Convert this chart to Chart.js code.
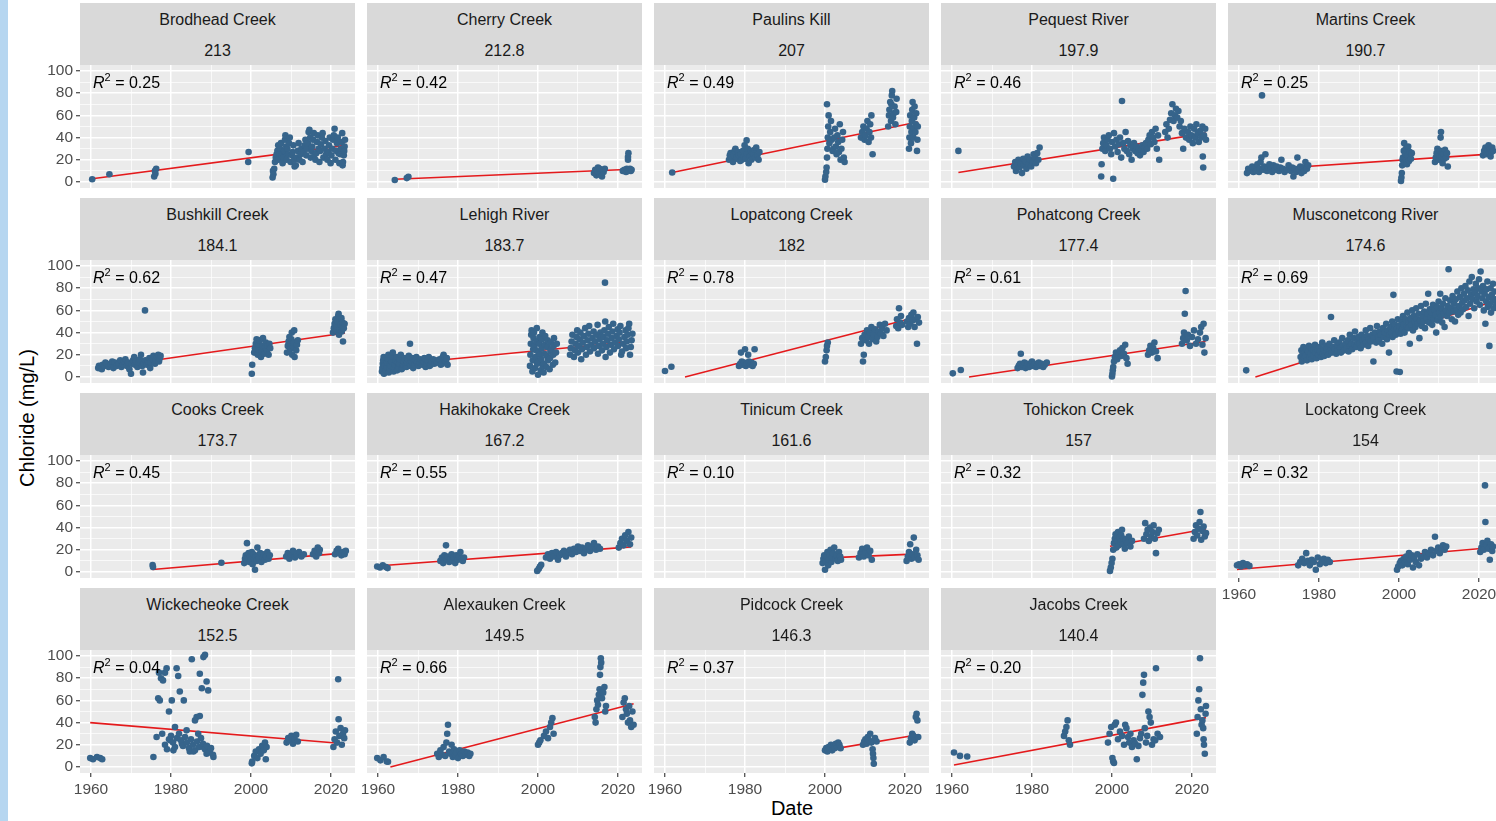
<!DOCTYPE html>
<html>
<head>
<meta charset="utf-8">
<script src="https://cdn.jsdelivr.net/npm/chart.js@4.4.1/dist/chart.umd.min.js"></script>
<style>
  body { margin: 0; width: 1496px; height: 821px; overflow: hidden; background: #fff; position: relative;
         font-family: "Liberation Sans", Arial, sans-serif; }
  .edge { position: absolute; left: 0; top: 0; width: 8px; height: 821px; background: #b6d6f0; }
  .strip { position: absolute; background: #d9d9d9; color: #1a1a1a; font-size: 16px; text-align: center; }
  .strip div { position: absolute; left: 0; right: 0; }
  .r2 { position: absolute; font-size: 16px; color: #000; white-space: nowrap; }
  .r2 sup { font-size: 11px; vertical-align: 0; position: relative; top: -7px; }
  canvas { position: absolute; }
  .ttl { position: absolute; font-size: 20px; color: #000; white-space: nowrap; }
</style>
</head>
<body>
<div class="edge"></div>
<div class="ttl" style="left:27px;top:418px;transform:translate(-50%,-50%) rotate(-90deg)">Chloride (mg/L)</div>
<div class="ttl" style="left:792px;top:808px;transform:translate(-50%,-50%)">Date</div>
<script>
// --- DATA ---
const siteNames = ['Brodhead Creek', 'Cherry Creek', 'Paulins Kill', 'Pequest River', 'Martins Creek',
  'Bushkill Creek', 'Lehigh River', 'Lopatcong Creek', 'Pohatcong Creek', 'Musconetcong River',
  'Cooks Creek', 'Hakihokake Creek', 'Tinicum Creek', 'Tohickon Creek', 'Lockatong Creek',
  'Wickecheoke Creek', 'Alexauken Creek', 'Pidcock Creek', 'Jacobs Creek'];
const siteScores = ['213', '212.8', '207', '197.9', '190.7', '184.1', '183.7', '182', '177.4', '174.6',
  '173.7', '167.2', '161.6', '157', '154', '152.5', '149.5', '146.3', '140.4'];
const r2Labels = ['0.25', '0.42', '0.49', '0.46', '0.25', '0.62', '0.47', '0.78', '0.61', '0.69',
  '0.45', '0.55', '0.10', '0.32', '0.32', '0.04', '0.66', '0.37', '0.20'];
const xTicks = [1960, 1970, 1980, 1990, 2000, 2010, 2020];
const yTicks = [0, 10, 20, 30, 40, 50, 60, 70, 80, 90, 100];

// fitted line ends: [x0, y0, x1, y1]
const fitLines = [
  [1960.3, 3, 2023.5, 33], [1964.2, 2.5, 2023.4, 11.5], [1961.8, 8.5, 2023.2, 54], [1961.6, 8.5, 2023.5, 44], [1962, 10.4, 2023.5, 25.3],
  [1961.5, 7.6, 2023.5, 39.6], [1961, 10.2, 2023.6, 32], [1965, 0, 2023.5, 54.5], [1964.25, 0, 2023.4, 32], [1964.1, 0, 2024.4, 69],
  [1975.4, 2.3, 2023.7, 17.2], [1959.8, 5.4, 2023.3, 22.6], [1999.4, 12.5, 2023.4, 16.3], [1999.5, 23.2, 2023.5, 38.7], [1959.5, 2.2, 2023.5, 22.1],
  [1959.8, 40, 2023.5, 21], [1963.1, 0, 2023.9, 57], [2000, 15, 2023.3, 29], [1960.5, 1.8, 2023.5, 44.5]
];

const brodhead = [[1960.3,2.5],[1964.6,7],[1975.8,5],[1976.1,7.5],[1976.0,10],[1976.3,12],[1999.3,18],[1999.4,27],
  [2005.4,4],[2005.6,7],[2005.5,10],[2005.8,12],[2006.0,18],[2006.2,22],[2006.4,25],[2006.6,28],[2006.8,33],[2006.9,20],
  [2007.1,26],[2007.3,30],[2007.5,35],[2007.7,24],[2007.9,17],[2008.1,22],[2008.3,28],[2008.5,38],[2008.6,42],[2008.8,32],[2008.9,20],
  [2009.1,30],[2009.3,25],[2009.5,35],[2009.7,40],[2009.9,18],[2010.2,24],[2010.4,27],[2010.6,33],[2010.8,20],[2010.9,14],
  [2011.2,15],[2011.5,22],[2011.7,28],[2011.9,35],[2012.1,20],[2012.4,25],[2012.6,30],[2012.9,18],
  [2013.1,27],[2013.4,33],[2013.6,38],[2013.8,24],[2014.0,30],[2014.2,35],[2014.4,45],[2014.6,47],[2014.8,40],[2014.9,22],
  [2015.1,28],[2015.3,32],[2015.5,38],[2015.7,44],[2015.9,25],[2016.1,20],[2016.3,26],[2016.5,36],[2016.7,42],[2016.9,30],
  [2017.1,18],[2017.3,28],[2017.5,34],[2017.7,40],[2017.9,44],[2018.1,22],[2018.4,30],[2018.6,37],[2018.8,25],
  [2019.1,20],[2019.3,27],[2019.5,33],[2019.7,40],[2019.9,17],[2020.1,24],[2020.3,30],[2020.5,38],[2020.7,42],[2020.9,48],
  [2021.1,20],[2021.3,28],[2021.5,35],[2021.7,40],[2021.9,26],[2022.1,17],[2022.3,25],[2022.5,30],[2022.7,36],[2022.8,44],[2022.9,15],
  [2023.0,18],[2023.2,24],[2023.4,32],[2023.5,38],[2023.3,28]];

const cherry = [[1964.2,1.8],[1967.2,3.5],[1967.6,4.8],
  [2014.0,8],[2014.3,11],[2014.6,6],[2015.0,13],[2015.2,9],[2015.5,7],[2015.8,11],[2016.0,5],[2016.4,9],[2016.7,12],[2014.8,10],[2015.4,12],
  [2021.2,10],[2021.6,11],[2022.0,9],[2022.2,12],[2022.5,10],[2022.7,11],[2023.0,12],[2023.2,10],[2023.4,11],[2022.5,20],[2022.5,22.5],[2022.6,26]];

const paulins = [[1961.8,8.5],[1976.0,20],[1976.2,24],[1976.4,26],[1976.6,22],[1977.0,18],[1977.2,25],[1977.4,28],[1977.6,30],[1977.8,21],
  [1978.0,22],[1978.3,27],[1978.5,24],[1978.8,19],[1979.0,25],[1979.2,20],[1979.5,28],[1979.7,23],[1979.9,33],
  [1980.1,21],[1980.4,37.5],[1980.5,26],[1980.7,30],[1980.9,17],[1981.2,23],[1981.4,28],[1981.6,20],[1981.8,26],
  [1982.1,25],[1982.4,29],[1982.6,22],[1982.8,31],[1983.1,24],[1983.4,20],[1983.6,27],
  [2000.0,2],[2000.1,5],[2000.3,9],[2000.4,13],[2000.5,22],[2000.6,30],[2000.7,40],[2000.8,50],[2000.9,60],[2000.5,70],
  [2001.1,35],[2001.3,45],[2001.5,55],[2001.7,38],[2001.9,28],[2002.1,30],[2002.3,40],[2002.5,48],[2002.7,32],[2002.9,25],
  [2003.1,42],[2003.3,36],[2003.5,27],[2003.7,52],[2003.9,20],[2004.1,30],[2004.3,38],[2004.5,45],[2004.7,22],[2004.9,18],
  [2009.0,40],[2009.3,45],[2009.6,50],[2009.9,38],[2010.1,42],[2010.4,48],[2010.6,55],[2010.9,36],
  [2011.1,45],[2011.3,52],[2011.5,40],[2011.6,60],[2011.9,25],
  [2015.8,50],[2016.0,60],[2016.1,65],[2016.3,72],[2016.5,55],[2016.6,70],[2016.7,78],[2016.8,82],
  [2017.0,58],[2017.2,62],[2017.4,68],[2017.6,52],[2017.8,63],[2017.9,75],
  [2021.0,30],[2021.1,40],[2021.2,50],[2021.3,60],[2021.5,35],[2021.6,45],[2021.7,55],[2021.8,65],[2021.9,72],
  [2022.1,40],[2022.2,48],[2022.3,58],[2022.4,68],[2022.6,45],[2022.7,52],[2022.8,62],[2023.0,28],[2023.1,38],[2023.2,50]];

const pequest = [[1961.6,28],
  [1975.5,14],[1975.8,18],[1976.0,10],[1976.3,16],[1976.6,20],[1976.9,13],[1977.2,17],[1977.5,8],[1977.8,21],[1978.0,15],
  [1978.3,19],[1978.6,12],[1978.9,23],[1979.2,16],[1979.5,20],[1979.8,14],[1980.1,18],[1980.4,25],[1980.7,22],[1981.0,17],
  [1981.3,26],[1981.6,20],[1981.9,31],
  [1997.3,5],[1997.4,16],[1997.6,30],[1997.8,35],[1998.0,40],[1998.3,28],[1998.6,33],[1998.9,38],[1999.2,42],[1999.5,30],
  [1999.8,25],[2000.0,36],[2000.3,3],[2000.5,44],[2000.8,32],[2001.1,38],[2001.4,27],[2001.7,34],[2002.0,40],[2002.3,22],
  [2002.5,73],[2002.8,35],[2003.1,30],[2003.4,45],[2003.7,28],[2004.0,37],[2004.3,25],[2004.6,33],[2004.9,20],[2005.2,30],
  [2005.5,35],[2005.8,28],[2006.1,32],[2006.4,26],[2006.7,30],[2007.0,24],[2007.3,29],[2007.6,33],[2007.9,27],[2008.2,31],
  [2008.5,35],[2008.8,30],[2009.1,38],[2009.4,42],[2009.7,34],[2010.0,45],[2010.3,40],[2010.6,36],[2010.9,48],[2011.2,30],
  [2011.5,42],[2011.8,20],
  [2013.3,45],[2013.6,52],[2013.9,40],[2014.2,48],[2014.5,56],[2014.8,62],[2015.1,70],[2015.4,55],[2015.7,60],[2016.0,66],
  [2016.3,58],[2016.6,64],[2016.9,50],[2017.2,55],[2017.5,44],[2017.8,30],[2018.1,48],[2018.5,40],
  [2019.0,45],[2019.3,38],[2019.6,50],[2019.9,42],[2020.2,35],[2020.5,48],[2020.8,40],[2021.1,52],[2021.4,44],[2021.7,36],
  [2022.0,46],[2022.3,40],[2022.6,50],[2022.7,23],[2022.8,13],[2023.0,42],[2023.3,48],[2023.5,38]];

const martins = [[1962.0,8],[1962.3,12],[1962.6,10],[1963.0,11],[1963.3,14],[1963.6,9],[1964.0,13],[1964.3,10],[1964.6,16],
  [1965.0,9],[1965.2,12],[1965.4,18],[1965.6,22],[1965.75,78],[1966.0,11],[1966.3,14],[1966.6,25],[1967.0,10],[1967.3,13],[1967.6,16],
  [1968.0,12],[1968.3,9],[1968.6,15],[1969.0,11],[1969.4,14],[1970.0,10],[1970.3,13],[1970.6,20],[1971.0,12],[1971.4,9],
  [1972.0,11],[1972.4,15],[1973.0,10],[1973.3,13],[1973.6,5],[1974.0,12],[1974.3,9],[1974.6,22],[1975.0,11],[1975.3,14],[1975.6,8],
  [1976.0,13],[1976.3,10],[1976.6,18],[1977.0,12],[1977.3,15],
  [2000.5,1],[2000.6,4],[2000.7,8],[2000.8,15],[2000.9,20],[2001.0,22],[2001.2,28],[2001.3,35],[2001.4,18],[2001.6,25],[2001.7,30],[2001.8,20],
  [2002.0,16],[2002.2,24],[2002.3,32],[2002.5,19],[2002.7,27],[2003.0,21],[2003.2,26],
  [2009.0,18],[2009.2,22],[2009.4,26],[2009.6,30],[2010.0,20],[2010.2,24],[2010.3,28],[2010.4,40],[2010.5,45],
  [2010.7,23],[2010.8,27],[2010.9,17],[2011.1,25],[2011.3,21],[2011.5,29],[2011.8,22],[2012.0,26],[2012.2,14],
  [2021.0,24],[2021.3,28],[2021.6,31],[2022.0,25],[2022.2,29],[2022.4,33],[2022.5,27],[2022.6,26],[2022.8,30],[2022.9,23],
  [2023.1,27],[2023.3,31],[2023.5,28]];

const bushkill = [[1961.8,8],[1962.0,10],[1962.5,9],[1962.7,7],[1962.9,11],[1963.3,10],[1963.6,13],[1964.0,12],[1964.4,9],
  [1965.0,11],[1965.3,14],[1965.6,8],[1966.0,13],[1966.4,10],[1967.0,12],[1967.3,15],[1967.6,9],[1968.0,11],[1968.3,14],[1968.6,16],
  [1969.0,10],[1969.3,13],[1969.6,7],[1970.0,3],[1970.2,12],[1970.5,15],[1970.8,18],[1971.0,11],[1971.3,14],[1971.6,9],
  [1972.0,13],[1972.2,16],[1972.5,20],[1972.8,10],[1973.0,4],[1973.2,12],[1973.5,60],[1973.6,15],[1974.0,11],[1974.3,14],
  [1974.6,17],[1974.8,8],[1975.0,13],[1975.3,16],[1975.6,19],[1976.0,12],[1976.2,15],[1976.5,18],[1976.8,20],[1977.0,14],
  [1977.2,17],[1977.4,19],
  [2000.2,3],[2000.3,11],[2000.8,22],[2001.0,26],[2001.2,30],[2001.4,34],[2001.7,20],[2001.9,25],[2002.0,29],[2002.2,33],
  [2002.5,18],[2002.7,23],[2002.9,28],[2003.0,35],[2003.3,21],[2003.5,27],[2003.7,31],[2004.0,24],[2004.2,28],[2004.4,20],
  [2004.6,30],[2004.8,26],
  [2009.0,22],[2009.2,28],[2009.4,32],[2009.6,36],[2009.8,25],[2010.0,30],[2010.1,34],[2010.2,40],[2010.3,20],
  [2010.5,27],[2010.7,31],[2010.8,42],[2010.9,18],[2011.3,24],[2011.5,29],[2011.7,33],
  [2020.5,40],[2020.7,44],[2020.9,48],[2021.1,52],[2021.3,42],[2021.4,46],[2021.6,50],[2021.8,55],[2021.9,57],
  [2022.0,38],[2022.2,43],[2022.4,47],[2022.6,53],[2022.7,41],[2022.8,45],[2022.9,49],[2023.0,32],[2023.2,44],[2023.4,48]];

const lehigh = [[1961.0,5],[1961.1,8],[1961.2,12],[1961.3,15],[1961.4,18],[1961.5,3],[1961.6,10],
  [1962.0,6],[1962.1,9],[1962.3,13],[1962.4,17],[1962.6,20],[1962.7,4],[1962.9,11],
  [1963.0,7],[1963.2,10],[1963.4,14],[1963.5,19],[1963.7,22],[1963.9,5],
  [1964.0,8],[1964.2,11],[1964.4,15],[1964.6,18],[1964.8,6],[1964.9,13],
  [1965.1,9],[1965.3,12],[1965.5,16],[1965.7,20],[1965.9,7],[1966.1,8],[1966.3,11],[1966.5,14],[1966.7,17],[1966.9,10],
  [1967.1,9],[1967.3,13],[1967.5,16],[1967.7,19],[1967.9,12],[1968.0,30],[1968.2,10],[1968.4,14],[1968.6,17],[1968.8,8],
  [1969.1,11],[1969.3,15],[1969.6,18],[1969.8,13],[1970.1,10],[1970.4,13],[1970.6,16],[1970.9,12],
  [1971.1,11],[1971.4,14],[1971.6,17],[1971.9,9],[1972.1,12],[1972.4,15],[1972.7,18],[1972.9,10],
  [1973.2,11],[1973.5,14],[1973.8,16],[1974.1,12],[1974.4,15],[1974.8,13],[1975.1,13],[1975.4,16],[1975.7,11],
  [1976.0,12],[1976.2,18],[1976.4,20],[1976.6,15],[1977.0,14],[1977.2,17],[1977.4,11],
  [1998.0,10],[1998.1,20],[1998.2,30],[1998.3,38],[1998.4,42],[1998.6,5],[1998.7,15],[1998.8,25],[1998.9,35],[1999.0,40],[1999.1,28],
  [1999.3,8],[1999.4,18],[1999.5,24],[1999.6,32],[1999.7,44],[1999.8,12],[2000.0,2],[2000.1,14],[2000.2,22],[2000.3,30],[2000.4,36],[2000.5,20],
  [2000.7,6],[2000.8,16],[2000.9,26],[2001.0,34],[2001.1,40],[2001.2,10],[2001.4,4],[2001.5,12],[2001.6,21],[2001.7,29],[2001.8,37],
  [2002.1,9],[2002.2,19],[2002.3,27],[2002.4,33],[2002.5,15],[2002.9,7],[2003.0,17],[2003.1,23],[2003.2,31],[2003.3,25],
  [2003.7,11],[2003.8,20],[2003.9,28],[2004.0,35],[2004.3,13],[2004.5,22],[2004.7,30],
  [2008.0,20],[2008.2,26],[2008.4,32],[2008.6,38],[2009.0,18],[2009.2,24],[2009.4,30],[2009.6,36],[2009.8,42],
  [2010.0,22],[2010.2,28],[2010.4,34],[2010.6,40],[2010.8,16],[2011.0,25],[2011.2,31],[2011.5,37],[2011.8,44],
  [2012.0,20],[2012.2,27],[2012.4,33],[2012.6,39],[2012.8,46],[2013.0,23],[2013.3,29],[2013.6,35],[2013.9,41],
  [2014.0,26],[2014.3,32],[2014.6,38],[2014.9,47],[2015.0,21],[2015.2,28],[2015.4,34],[2015.6,40],[2015.8,36],
  [2016.0,24],[2016.2,30],[2016.4,36],[2016.6,42],[2016.8,50],[2016.75,85],[2016.9,18],
  [2017.1,27],[2017.3,33],[2017.5,39],[2017.7,45],[2018.0,22],[2018.2,29],[2018.4,35],[2018.6,41],[2018.8,48],
  [2019.0,25],[2019.3,31],[2019.6,37],[2019.9,43],[2020.0,28],[2020.2,34],[2020.4,40],[2020.6,46],[2020.8,20],
  [2021.0,23],[2021.3,30],[2021.6,36],[2021.9,42],[2022.0,26],[2022.2,32],[2022.4,38],[2022.6,44],[2022.8,48],
  [2023.0,20],[2023.2,27],[2023.4,33],[2023.6,39]];

const lopatcong = [[1960.0,5.4],[1961.6,9.3],
  [1978.5,10],[1978.8,12],[1979.0,22],[1979.2,14],[1979.5,11],[1979.8,13],[1980.0,25],[1980.2,10],[1980.5,12],
  [1980.8,20],[1981.0,14],[1981.3,11],[1981.6,13],[1981.9,10],[1982.2,12],[1982.4,25],
  [2000.0,14],[2000.2,18],[2000.4,24],[2000.5,28],[2000.7,31],
  [2009.0,30],[2009.3,35],[2009.5,14],[2009.7,20],[2009.9,38],[2010.2,33],[2010.5,42],[2010.8,36],
  [2011.0,30],[2011.3,40],[2011.6,45],[2011.9,34],[2012.2,38],[2012.5,43],[2012.8,32],
  [2013.1,36],[2013.4,41],[2013.7,47],[2014.0,39],[2014.3,44],[2014.6,37],[2015.0,48],[2015.4,42],
  [2017.8,46],[2018.0,52],[2018.3,44],[2018.5,62],[2018.8,49],[2019.0,55],[2019.3,47],
  [2020.5,50],[2020.8,45],[2021.0,53],[2021.3,48],[2021.6,56],[2021.9,51],[2022.1,58],[2022.4,45],
  [2022.7,52],[2023.0,30],[2023.2,54],[2023.5,49]];

const pohatcong = [[1960.2,3.3],[1962.2,6.3],
  [1976.4,8],[1976.7,10],[1977.0,12],[1977.2,21],[1977.5,9],[1977.8,11],[1978.1,13],[1978.4,8],
  [1978.7,10],[1979.0,12],[1979.3,9],[1979.6,11],[1980.0,14],[1980.3,10],[1980.6,12],[1981.0,9],
  [1981.3,11],[1981.7,13],[1982.0,10],[1982.4,12],[1982.8,9],[1983.2,11],[1983.7,13],
  [2000.0,0.5],[2000.1,3],[2000.2,6],[2000.3,9],[2000.5,14],[2000.7,18],[2001.0,22],[2001.3,16],
  [2001.6,20],[2002.0,24],[2002.3,19],[2002.6,26],[2003.0,21],[2003.3,29],[2003.6,17],[2003.9,12],
  [2009.0,20],[2009.3,24],[2009.6,28],[2010.0,22],[2010.3,26],[2010.6,31],[2011.0,23],[2011.4,17],
  [2017.5,30],[2017.8,35],[2018.0,40],[2018.2,57],[2018.4,77.5],[2018.7,33],[2019.0,38],
  [2019.5,28],[2020.0,36],[2020.5,42],[2021.0,30],[2021.5,34],[2022.0,40],[2022.3,45],
  [2022.6,29],[2022.9,48],[2023.1,22],[2023.4,35]];

const musconetcong = [[1961.8,6],
  [1975.4,18],[1975.6,24],[1975.7,14],[1975.9,21],[1976.1,27],[1976.3,17],[1976.4,22],[1976.7,19],[1976.9,25],[1977.0,15],
  [1977.3,23],[1977.5,28],[1977.6,18],[1977.9,21],[1978.1,26],[1978.2,16],[1978.6,24],[1978.7,19],[1979.0,29],[1979.1,22],
  [1979.4,17],[1979.7,25],[1979.8,20],[1980.0,27],[1980.3,23],[1980.5,18],[1980.8,31],[1980.9,21],
  [1981.1,25],[1981.3,19],[1981.6,28],[1981.9,23],[1982.0,26],[1982.3,20],[1982.6,30],[1982.8,24],[1983.0,54],[1983.2,22],
  [1983.5,27],[1983.8,33],[1984.0,25],[1984.3,21],[1984.6,29],[1984.7,24],[1985.0,31],[1985.3,26],[1985.5,22],[1985.8,35],
  [1986.0,28],[1986.3,24],[1986.6,30],[1986.9,26],[1987.2,33],[1987.4,23],[1987.7,38],[1987.8,28],
  [1988.1,30],[1988.3,25],[1988.6,35],[1988.9,29],[1989.0,41],[1989.3,27],[1989.6,32],[1989.8,36],[1990.1,30],[1990.4,26],
  [1990.6,38],[1990.9,33],[1991.1,29],[1991.4,35],[1991.7,42],[1991.8,31],[1992.0,37],[1992.3,28],[1992.5,34],[1992.8,44],
  [1993.0,32],[1993.3,38],[1993.6,14],[1993.7,35],[1994.0,40],[1994.3,31],[1994.5,46],[1994.8,36],
  [1995.0,33],[1995.2,41],[1995.5,38],[1995.8,30],[1996.0,44],[1996.2,36],[1996.5,40],[1996.8,48],[1997.0,34],[1997.2,42],
  [1997.5,22],[1997.6,38],[1997.9,45],[1998.1,40],[1998.3,50],[1998.4,36],[1998.6,74],[1998.8,43],[1999.0,47],[1999.2,38],
  [1999.4,5],[1999.5,44],[1999.7,52],[1999.9,41],[2000.1,46],[2000.2,4.5],[2000.4,39],[2000.6,50],[2000.8,43],[2001.0,55],
  [2001.2,47],[2001.4,40],[2001.7,52],[2001.9,45],
  [2002.1,58],[2002.3,44],[2002.5,50],[2002.7,30],[2002.9,53],[2003.1,47],[2003.3,60],[2003.5,42],[2003.7,55],[2003.9,50],
  [2004.1,45],[2004.3,62],[2004.5,52],[2004.7,48],[2004.9,57],[2005.1,35],[2005.3,51],[2005.5,64],[2005.7,46],[2005.9,55],
  [2006.1,50],[2006.3,59],[2006.5,44],[2006.7,66],[2006.9,53],[2007.1,57],[2007.3,75],[2007.5,49],[2007.7,61],[2007.9,54],
  [2008.1,58],[2008.3,47],[2008.5,65],[2008.7,52],[2008.9,60],
  [2009.1,56],[2009.3,40],[2009.5,63],[2009.7,51],[2009.9,68],[2010.1,58],[2010.3,75],[2010.4,54],[2010.6,62],[2010.8,49],
  [2011.0,66],[2011.2,57],[2011.4,45],[2011.6,71],[2011.8,60],[2012.0,55],[2012.2,64],[2012.4,97],[2012.6,58],[2012.8,69],
  [2013.0,62],[2013.2,52],[2013.4,73],[2013.6,59],[2013.8,66],[2014.0,50],[2014.2,70],[2014.4,61],[2014.6,77],[2014.8,56],
  [2015.0,64],[2015.2,72],[2015.4,58],[2015.6,80],[2015.8,67],[2016.0,61],[2016.2,75],[2016.4,69],[2016.6,82],[2016.8,63],
  [2017.0,71],[2017.2,78],[2017.4,55],[2017.6,86],[2017.8,66],[2018.0,74],[2018.2,90],[2018.4,70],[2018.6,79],[2018.8,62],
  [2019.0,76],[2019.2,84],[2019.4,68],[2019.6,73],[2019.8,80],[2020.0,88],[2020.2,65],[2020.4,95],[2020.6,77],[2020.8,71],
  [2021.0,82],[2021.2,60],[2021.4,75],[2021.6,48],[2021.8,68],[2021.9,79],[2022.1,86],[2022.2,63],[2022.4,72],[2022.6,28],
  [2022.7,66],[2022.9,80],[2023.0,58],[2023.2,74],[2023.4,69],[2023.5,84],[2023.7,62],[2023.9,77],[2024.1,70],[2024.3,65]];

const cooks = [[1975.4,6.3],[1975.5,4.5],[1992.6,8.4],
  [1998.3,8],[1998.5,12],[1998.7,15],[1998.9,10],[1999.0,26],[1999.2,13],[1999.4,17],[1999.6,9],
  [1999.8,14],[2000.0,11],[2000.2,18],[2000.4,7],[2000.6,16],[2000.8,12],[2001.0,2],[2001.2,14],
  [2001.4,10],[2001.6,22],[2001.8,15],[2002.0,12],[2002.3,17],[2002.6,9],[2002.9,13],[2003.2,16],
  [2003.5,11],[2003.8,14],[2004.1,18],[2004.4,12],[2004.7,15],
  [2008.8,14],[2009.2,17],[2009.6,12],[2010.0,16],[2010.5,19],[2011.0,13],[2011.5,15],[2012.0,18],[2012.6,14],[2013.2,16],
  [2015.5,16],[2015.9,19],[2016.3,14],[2016.7,22],[2017.0,17],[2017.2,20],
  [2021.0,16],[2021.4,19],[2021.8,21],[2022.2,17],[2022.6,15],[2023.0,18],[2023.4,16],[2023.7,19]];

const hakihokake = [[1959.8,5],[1960.5,4],[1961.2,6],[1962.0,4.5],[1962.4,3.5],
  [1975.6,10],[1976.0,13],[1976.3,8],[1976.6,15],[1977.0,24],[1977.2,11],[1977.5,14],[1977.8,9],
  [1978.1,12],[1978.4,16],[1978.7,10],[1979.0,13],[1979.3,8],[1979.6,15],[1980.0,11],[1980.3,14],
  [1980.6,18],[1980.9,12],[1981.2,10],[1981.5,13],
  [1999.8,1],[2000.2,3],[2000.5,5],[2000.8,6.5],
  [2002.0,13],[2002.5,16],[2003.0,12],[2003.5,17],[2004.0,14],[2004.5,18],[2005.0,11],[2005.5,15],
  [2006.0,17],[2006.5,19],[2007.0,14],[2007.5,18],[2008.0,20],[2008.5,16],[2009.0,21],[2009.5,18],
  [2010.0,23],[2010.5,19],[2011.0,22],[2011.5,17],[2012.0,21],[2012.5,24],[2013.0,19],[2013.5,22],
  [2014.0,26],[2014.5,20],[2015.0,23],[2015.5,21],
  [2020.2,22],[2020.6,26],[2021.0,30],[2021.4,24],[2021.8,33],[2022.2,28],[2022.6,36],[2023.0,25],[2023.3,31]];

const tinicum = [[1999.4,8],[1999.6,12],[1999.8,15],[2000.0,2],[2000.2,10],[2000.4,14],[2000.6,18],[2000.8,6],
  [2001.0,11],[2001.2,16],[2001.4,20],[2001.6,9],[2001.8,13],[2002.0,17],[2002.3,22],[2002.6,12],
  [2002.9,15],[2003.2,10],[2003.5,18],[2003.8,14],[2004.0,11],
  [2008.5,13],[2008.9,17],[2009.3,21],[2009.7,14],[2010.1,18],[2010.5,22],[2010.9,15],[2011.3,19],[2011.7,11],
  [2020.4,10],[2020.7,14],[2021.0,18],[2021.3,25],[2021.6,12],[2021.9,16],[2022.2,31],[2022.5,13],
  [2022.8,20],[2023.1,15],[2023.4,11]];

const tohickon = [[1999.5,1],[1999.7,4],[1999.9,8],[2000.1,12],[2000.3,20],[2000.5,26],[2000.7,30],[2000.9,34],
  [2001.1,22],[2001.3,28],[2001.5,36],[2001.7,24],[2001.9,31],[2002.1,27],[2002.3,33],[2002.5,38],
  [2002.7,25],[2002.9,30],[2003.2,21],[2003.5,29],[2003.8,26],[2004.2,32],[2004.6,23],[2005.0,28],
  [2008.0,30],[2008.3,44],[2008.6,34],[2008.9,38],[2009.2,28],[2009.5,40],[2009.8,32],[2010.1,36],
  [2010.4,42],[2010.7,30],[2011.0,17],[2011.3,35],[2011.7,38],
  [2020.4,30],[2020.7,36],[2021.0,42],[2021.3,33],[2021.6,39],[2021.9,45],[2022.1,54],[2022.3,29],
  [2022.6,37],[2022.9,41],[2023.2,32],[2023.5,35]];

const lockatong = [[1959.5,6],[1960.0,7],[1960.5,5],[1961.0,8],[1961.5,6],[1962.0,7],[1962.6,5.5],
  [1974.8,6],[1975.3,9],[1975.8,12],[1976.3,8],[1976.8,17],[1977.2,10],[1977.7,6],[1978.2,11],
  [1978.7,9],[1979.2,2],[1979.7,13],[1980.2,7],[1980.7,10],[1981.2,12],[1981.7,8],[1982.2,11],[1982.7,9],
  [1999.5,2],[1999.8,5],[2000.2,8],[2000.5,10],[2000.8,6],[2001.2,12],[2001.5,9],[2001.8,14],
  [2002.2,7],[2002.5,17],[2002.8,11],[2003.2,15],[2003.5,4],[2003.8,13],[2004.2,9],[2004.6,16],
  [2005.0,6],[2005.5,12],[2006.0,14],[2006.5,18],[2007.0,13],[2007.5,17],[2008.0,20],[2008.5,15],
  [2009.0,31.8],[2009.4,19],[2009.8,22],[2010.2,17],[2010.6,21],[2011.0,24],[2011.4,20],[2011.8,23],
  [2020.3,18],[2020.6,22],[2020.9,26],[2021.2,20],[2021.5,78],[2021.6,45],[2021.8,24],[2022.1,28],
  [2022.4,21],[2022.7,11],[2023.0,25],[2023.3,19],[2023.5,23]];

const wickecheoke = [[1959.8,8],[1960.5,7],[1961.5,9],[1962.3,8],[1962.8,7],
  [1975.6,9],[1976.4,27],[1976.8,62],[1977.2,60],[1977.0,85],[1977.5,80],[1978.0,78],[1978.5,85],[1978.9,89],
  [1979.5,50],[1979.8,24],[1980.2,60],[1980.6,15],[1981.0,36],[1981.4,89],[1981.8,82],[1982.2,68],
  [1982.7,21],[1983.2,60],[1983.9,33],[1984.7,14],[1985.2,97],[1985.6,14],[1986.0,42],[1986.4,45],
  [1986.8,30],[1987.2,84],[1987.7,71],[1988.1,99],[1988.5,101],[1988.9,77],[1989.3,69],[1987.2,46],
  [1988.1,18],[1988.9,12],[1989.7,14],[1990.6,9],
  [1977.8,30],[1978.5,20],[1979.0,16],[1979.5,25],[1980.0,28],[1980.5,22],[1981.0,18],[1981.5,26],
  [1982.0,30],[1982.5,24],[1983.0,19],[1983.5,27],[1984.0,22],[1984.5,17],[1985.0,25],[1985.5,20],
  [1986.0,15],[1986.5,23],[1987.0,18],[1987.5,26],[1988.0,21],[1988.5,16],[1989.0,19],[1989.5,13],[1990.0,17],[1990.5,11],
  [2000.2,3.3],[2000.3,5],[2000.8,10],[2001.2,14],[2001.6,8],[2002.0,16],[2002.4,12],[2002.8,19],
  [2003.2,15],[2003.5,22],[2003.9,18],[2003.7,7],
  [2008.9,22],[2009.3,26],[2009.7,24],[2010.1,28],[2010.5,21],[2010.9,25],[2011.3,29],[2011.7,23],
  [2020.6,18],[2020.9,25],[2021.2,32],[2021.5,22],[2021.8,79],[2021.9,43],[2022.1,28],[2022.4,35],
  [2022.7,20],[2023.0,30],[2023.3,26],[2023.5,33]];

const alexauken = [[1959.8,8],[1960.6,6],[1961.4,9],[1962.2,5],[1962.5,4.8],
  [1974.8,12],[1975.2,9],[1975.6,15],[1976.0,11],[1976.4,18],[1976.8,10],[1977.1,22],[1977.3,30],[1977.5,38],
  [1977.8,14],[1978.1,12],[1978.4,20],[1978.7,9],[1979.0,16],[1979.3,11],[1979.6,13],[1980.0,8],
  [1980.4,15],[1980.8,12],[1981.2,10],[1981.6,14],[1982.0,11],[1982.4,13],[1982.8,10],[1983.1,12],
  [2000.0,20],[2000.3,22],[2000.6,24],[2001.5,28],[2002.0,32],[2002.5,26],[2003.0,36],[2003.3,40],[2003.6,44],[2003.9,30],
  [2014.2,45],[2014.4,40],[2014.6,52],[2014.8,60],[2015.0,56],[2015.2,65],[2015.4,70],[2015.5,83],
  [2015.6,90],[2015.7,98],[2015.8,94],[2016.0,62],[2016.3,67],[2016.6,72],[2016.8,50],[2017.0,55],
  [2021.1,45],[2021.4,58],[2021.7,62],[2022.0,52],[2022.2,48],[2022.5,40],[2022.8,55],[2023.0,42],
  [2023.3,36],[2023.6,50],[2023.9,38]];

const pidcock = [[2000.0,15],[2000.3,17],[2000.6,14],[2000.9,18],[2001.2,16],[2001.5,20],[2001.8,15],[2002.1,19],
  [2002.4,17],[2002.7,21],[2003.0,18],[2003.3,22],[2003.6,20],[2003.9,17],
  [2009.5,20],[2009.8,23],[2010.1,25],[2010.4,21],[2010.7,27],[2011.0,24],[2011.3,30],[2011.6,22],
  [2011.9,16],[2012.0,12],[2012.1,8],[2012.2,3],[2012.5,26],[2012.9,23],
  [2021.2,22],[2021.5,26],[2021.8,30],[2022.1,28],[2022.4,24],[2022.7,45],[2022.9,48],[2023.1,42],[2023.3,27]];

const jacobs = [[1960.5,13],[1962.0,10],[1963.8,9.5],
  [1988.0,28],[1988.3,32],[1988.6,36],[1988.9,42],[1989.2,24],[1989.5,20],
  [1999.0,22],[1999.4,30],[1999.8,36],[2000.1,8],[2000.3,5],[2000.5,3.6],[2000.7,38],[2001.0,40],
  [2001.5,25],[2002.0,32],[2002.5,28],[2003.0,20],[2003.3,38],[2003.6,35],[2004.0,27],[2004.3,22],
  [2004.6,30],[2005.0,18],[2005.4,24],[2005.8,21],[2006.2,7],[2006.6,19],[2007.0,26],[2007.3,30],
  [2007.6,65],[2007.8,76],[2008.0,83],[2008.2,35],[2008.5,22],[2008.8,28],[2009.1,50],[2009.4,45],
  [2009.7,40],[2010.0,20],[2010.4,25],[2010.8,24],[2011.0,89],[2011.4,30],[2012.0,27],
  [2021.2,30],[2021.4,45],[2021.6,60],[2021.8,70],[2022.0,98],[2022.2,52],[2022.4,38],[2022.6,42],
  [2022.8,35],[2022.9,25],[2023.0,20],[2023.2,12],[2023.4,48],[2023.5,55]];

const sitePoints = [brodhead, cherry, paulins, pequest, martins, bushkill, lehigh, lopatcong, pohatcong, musconetcong,
  cooks, hakihokake, tinicum, tohickon, lockatong, wickecheoke, alexauken, pidcock, jacobs];

// --- LAYOUT ---
const colLeft = [80, 367, 654, 941, 1228];
const panelW = 275, plotH = 123, stripH = 62, rowStep = 195;
const FONT = '"Liberation Sans", Arial, sans-serif';

// grey plot background like ggplot
const panelBg = {
  id: 'panelBg',
  beforeDraw(chart) {
    const a = chart.chartArea, ctx = chart.ctx;
    ctx.save();
    ctx.fillStyle = '#ebebeb';
    ctx.fillRect(a.left, a.top, a.right - a.left, a.bottom - a.top);
    ctx.restore();
  }
};

function axisOpts(ticks, min, max, showLabels, showTicks, size) {
  return {
    type: 'linear', min: min, max: max,
    afterBuildTicks: s => { s.ticks = ticks.map(v => ({ value: v })); },
    afterFit: s => {
      if (s.isHorizontal()) s.height = size; else s.width = size;
      // no label overhang padding, so every panel keeps the same plot box
      s.paddingTop = 0; s.paddingBottom = 0; s.paddingLeft = 0; s.paddingRight = 0;
    },
    border: { display: false },
    grid: {
      color: '#ffffff',
      lineWidth: c => (c.tick && c.tick.value % 20 === 0) ? 1.5 : 0.7,
      drawTicks: showTicks, tickLength: 4, tickWidth: 1.1,
      tickColor: c => (c.tick && c.tick.value % 20 === 0) ? '#333333' : 'rgba(0,0,0,0)'
    },
    ticks: {
      display: showLabels, color: '#4d4d4d', padding: 3, autoSkip: false, maxRotation: 0,
      font: { family: FONT, size: 15.5 },
      callback: v => (v % 20 === 0) ? String(v) : ''
    }
  };
}

siteNames.forEach((name, i) => {
  const r = Math.floor(i / 5), c = i % 5;
  const left = colLeft[c];
  const plotTop = 65 + rowStep * r;
  const showY = c === 0;
  const showX = r === 3 || (r === 2 && c === 4);

  // strip
  const strip = document.createElement('div');
  strip.className = 'strip';
  strip.style.cssText = `left:${left}px;top:${plotTop - stripH}px;width:${panelW}px;height:${stripH}px`;
  strip.innerHTML = `<div style="top:8px">${name}</div><div style="top:39px">${siteScores[i]}</div>`;
  document.body.appendChild(strip);

  // chart canvas; bottom panels get a little room on the left for the first year label
  const yW = showY ? 80 : (showX ? 24 : 0), xH = showX ? 30 : 0;
  const cv = document.createElement('canvas');
  cv.width = panelW + yW;
  cv.height = plotH + xH;
  cv.style.left = (left - yW) + 'px';
  cv.style.top = plotTop + 'px';
  document.body.appendChild(cv);

  const f = fitLines[i];
  new Chart(cv, {
    type: 'scatter',
    data: {
      datasets: [
        { data: sitePoints[i].map(p => ({ x: p[0], y: p[1] })), pointRadius: 3.3, pointBorderWidth: 0,
          pointBackgroundColor: '#36648b', order: 1 },
        { data: [{ x: f[0], y: f[1] }, { x: f[2], y: f[3] }], showLine: true, pointRadius: 0,
          borderColor: '#e41a1c', borderWidth: 1.6, order: 2 }
      ]
    },
    options: {
      responsive: false, animation: false, events: [],
      layout: { padding: 0, autoPadding: false },
      plugins: { legend: { display: false }, tooltip: { enabled: false } },
      scales: {
        x: axisOpts(xTicks, 1957.25, 2026, showX, showX, xH),
        y: axisOpts(yTicks, -5.4, 105.4, showY, showY, yW)
      }
    },
    plugins: [panelBg]
  });

  // R squared label
  const lab = document.createElement('div');
  lab.className = 'r2';
  lab.style.left = (left + 13) + 'px';
  lab.style.top = (plotTop + 9) + 'px';
  lab.innerHTML = `<i>R</i><sup>2</sup> = ${r2Labels[i]}`;
  document.body.appendChild(lab);
});
</script>
</body>
</html>
